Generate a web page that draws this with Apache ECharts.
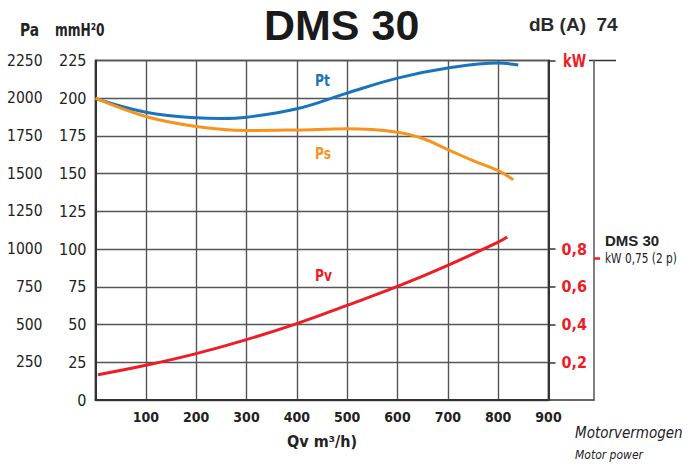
<!DOCTYPE html>
<html>
<head>
<meta charset="utf-8">
<script src="https://cdn.jsdelivr.net/npm/echarts@6/dist/echarts.min.js"></script>
<style>html,body{margin:0;padding:0;background:#fff}#c{width:698px;height:466px}</style>
</head>
<body>
<div id="c"></div>
<script>
// ---- data ----
const qTicks = [0, 100, 200, 300, 400, 500, 600, 700, 800, 900];
const paTicks = [0, 250, 500, 750, 1000, 1250, 1500, 1750, 2000, 2250];
const mmTicks = [0, 25, 50, 75, 100, 125, 150, 175, 200, 225];
const kwLabels = [0.2, 0.4, 0.6, 0.8];
const motorKw = 0.75;

const ptQ = [0, 100, 200, 250, 300, 400, 500, 600, 700, 800, 840];
const ptV = [199.8, 190.7, 187.0, 186.6, 187.4, 193.0, 203.4, 213.3, 220.0, 223.3, 222.0];

const psQ = [0, 100, 200, 300, 400, 500, 600, 650, 700, 750, 800, 830];
const psV = [200.0, 187.9, 181.3, 178.6, 179.0, 179.7, 177.5, 173.3, 166.0, 158.6, 152.0, 146.0];

const pvQ = [5, 100, 200, 300, 400, 500, 600, 700, 800, 818];
const pvKw = [0.134, 0.184, 0.246, 0.320, 0.405, 0.502, 0.602, 0.714, 0.837, 0.864];

// ---- styling ----
const NARROW = '"Liberation Sans Narrow", "DejaVu Sans Condensed", "Roboto Condensed", sans-serif';
const WIDE = '"Liberation Sans", Arial, sans-serif';
const BLUE = '#1a73bd', ORANGE = '#f7941d', RED = '#ee1c25', INK = '#222';

const zip = (a, b) => a.map((x, i) => [x, b[i]]);

const chart = echarts.init(document.getElementById('c'), null, { renderer: 'svg' });

function txt(x, y, text, font, fill, sx) {
  return { type: 'text', x: x, y: y, scaleX: sx || 1, style: { text: text, font: font, fill: fill } };
}

const option = {
  animation: false,
  backgroundColor: '#fff',
  grid: { left: 95.5, right: 149.5, top: 60.5, bottom: 66, show: true, borderColor: '#333', borderWidth: 1.5, containLabel: false },
  xAxis: {
    type: 'value', min: qTicks[0], max: qTicks[qTicks.length - 1], interval: 100,
    axisLine: { show: true, onZero: false, lineStyle: { color: '#333', width: 2 } },
    axisTick: { show: false },
    axisLabel: {
      margin: 10, color: INK, fontFamily: NARROW, fontWeight: 'bold', fontSize: 14,
      formatter: v => (v === 0 ? '' : String(v))
    },
    splitLine: { show: true, lineStyle: { color: '#555', width: 1.4 } },
    name: 'Qv m³/h)', nameLocation: 'middle', nameGap: 33,
    nameTextStyle: { color: INK, fontFamily: NARROW, fontWeight: 'bold', fontSize: 16 }
  },
  yAxis: [
    { // mmH2O
      type: 'value', position: 'left', offset: 0, min: mmTicks[0], max: mmTicks[mmTicks.length - 1], interval: 25,
      axisLine: { show: true, lineStyle: { color: '#333', width: 2 } },
      axisTick: { show: false },
      axisLabel: { margin: 9, color: INK, fontFamily: NARROW, fontSize: 16 },
      splitLine: { show: true, lineStyle: { color: '#555', width: 1.4 } }
    },
    { // Pa
      type: 'value', position: 'left', offset: 44, min: paTicks[0], max: paTicks[paTicks.length - 1], interval: 250,
      axisLine: { show: false }, axisTick: { show: false },
      axisLabel: { margin: 9, color: INK, fontFamily: NARROW, fontSize: 15.5, formatter: v => (v === 0 ? '' : String(v)) },
      splitLine: { show: false }
    },
    { // kW
      type: 'value', position: 'right', offset: 0, min: 0, max: 1.8, interval: 0.2,
      axisLine: { show: true, lineStyle: { color: '#333', width: 2 } },
      axisTick: { show: true, inside: false, length: 7, customValues: kwLabels.concat([1.8]), lineStyle: { color: '#333', width: 1.5 } },
      axisLabel: {
        margin: 13, color: RED, fontFamily: NARROW, fontWeight: 'bold', fontSize: 16,
        customValues: kwLabels,
        formatter: v => v.toFixed(1).replace('.', ',')
      },
      splitLine: { show: false }
    },
    { // motor power decoration axis
      type: 'value', position: 'right', offset: 45.5, min: 0, max: 1.8,
      axisLine: { show: true, lineStyle: { color: '#555', width: 1.5 } },
      axisTick: { show: true, inside: false, length: 6, customValues: [motorKw], lineStyle: { color: RED, width: 2.5 } },
      axisLabel: { show: false },
      splitLine: { show: false }
    }
  ],
  series: [
    { type: 'line', name: 'Pt', yAxisIndex: 0, data: zip(ptQ, ptV), smooth: 0.4, showSymbol: false,
      lineStyle: { color: BLUE, width: 3 }, z: 3 },
    { type: 'line', name: 'Ps', yAxisIndex: 0, data: zip(psQ, psV), smooth: 0.4, showSymbol: false,
      lineStyle: { color: ORANGE, width: 3 }, z: 3 },
    { type: 'line', name: 'Pv', yAxisIndex: 2, data: zip(pvQ, pvKw), smooth: 0.4, showSymbol: false,
      lineStyle: { color: RED, width: 3 }, z: 3 }
  ],
  graphic: [
    txt(264, 3, 'DMS 30', '900 43px ' + WIDE, '#1a1a1a'),
    txt(529, 15, 'dB (A)  74', 'bold 19px ' + WIDE, '#2a2a2a'),
    txt(20, 22, 'Pa', 'bold 17px ' + NARROW, INK, 0.9),
    txt(55, 22, 'mmH²0', 'bold 17px ' + NARROW, INK, 0.8),
    txt(563, 53, 'kW', 'bold 17px ' + NARROW, RED, 0.85),
    txt(315, 72, 'Pt', 'bold 16px ' + NARROW, BLUE, 0.85),
    txt(315, 145, 'Ps', 'bold 16px ' + NARROW, ORANGE, 0.85),
    txt(315, 267, 'Pv', 'bold 16px ' + NARROW, RED, 0.85),
    txt(605, 233, 'DMS 30', 'bold 15px ' + WIDE, INK),
    txt(605, 251, 'kW 0,75 (2 p)', '14px ' + NARROW, INK, 0.84),
    txt(575, 425, 'Motorvermogen', 'italic 15px ' + NARROW, INK),
    txt(575, 449, 'Motor power', 'italic 12px ' + NARROW, INK),
    { type: 'line', shape: { x1: 589, y1: 60.5, x2: 616, y2: 60.5 }, style: { stroke: '#333', lineWidth: 1.5 } },
    { type: 'line', shape: { x1: 548, y1: 400, x2: 594.5, y2: 400 }, style: { stroke: '#333', lineWidth: 1.5 } }
  ]
};
chart.setOption(option);
</script>
</body>
</html>
